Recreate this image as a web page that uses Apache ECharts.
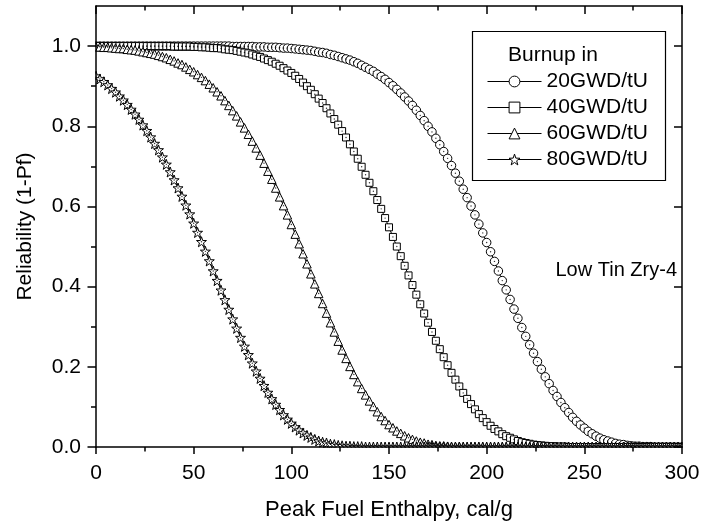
<!DOCTYPE html>
<html>
<head>
<meta charset="utf-8">
<script src="https://cdn.jsdelivr.net/npm/echarts@6/dist/echarts.min.js"></script>
<style>
  html, body { margin: 0; padding: 0; background: #fff; }
  #chart { width: 703px; height: 531px; }
</style>
</head>
<body>
<div id="chart"></div>
<script>
// Peak fuel enthalpy (cal/g), shared by all burnup levels
const enthalpy = [
  0, 2, 4, 6, 8, 10, 12, 14, 16, 18,
  20, 22, 24, 26, 28, 30, 32, 34, 36, 38,
  40, 42, 44, 46, 48, 50, 52, 54, 56, 58,
  60, 62, 64, 66, 68, 70, 72, 74, 76, 78,
  80, 82, 84, 86, 88, 90, 92, 94, 96, 98,
  100, 102, 104, 106, 108, 110, 112, 114, 116, 118,
  120, 122, 124, 126, 128, 130, 132, 134, 136, 138,
  140, 142, 144, 146, 148, 150, 152, 154, 156, 158,
  160, 162, 164, 166, 168, 170, 172, 174, 176, 178,
  180, 182, 184, 186, 188, 190, 192, 194, 196, 198,
  200, 202, 204, 206, 208, 210, 212, 214, 216, 218,
  220, 222, 224, 226, 228, 230, 232, 234, 236, 238,
  240, 242, 244, 246, 248, 250, 252, 254, 256, 258,
  260, 262, 264, 266, 268, 270, 272, 274, 276, 278,
  280, 282, 284, 286, 288, 290, 292, 294, 296, 298,
  300
];

// Reliability (1-Pf) for each burnup level
const rel20 = [
  1, 1, 1, 1, 1, 1, 1, 1, 1, 1,
  1, 1, 1, 1, 1, 1, 1, 1, 1, 1,
  1, 1, 1, 1, 1, 1, 1, 1, 1, 1,
  1, 1, 1, 1, 1, 0.999, 0.999, 0.999, 0.999, 0.999,
  0.999, 0.998, 0.998, 0.998, 0.997, 0.997, 0.997, 0.996, 0.995, 0.995,
  0.994, 0.993, 0.992, 0.991, 0.990, 0.989, 0.987, 0.985, 0.984, 0.982,
  0.979, 0.977, 0.974, 0.971, 0.968, 0.965, 0.961, 0.957, 0.952, 0.947,
  0.942, 0.937, 0.930, 0.924, 0.917, 0.909, 0.901, 0.892, 0.883, 0.873,
  0.863, 0.852, 0.840, 0.827, 0.814, 0.800, 0.786, 0.770, 0.754, 0.737,
  0.720, 0.702, 0.683, 0.663, 0.643, 0.622, 0.601, 0.579, 0.556, 0.534,
  0.510, 0.487, 0.463, 0.439, 0.415, 0.392, 0.368, 0.344, 0.321, 0.298,
  0.276, 0.255, 0.234, 0.213, 0.194, 0.175, 0.158, 0.141, 0.126, 0.111,
  0.098, 0.086, 0.074, 0.064, 0.055, 0.047, 0.039, 0.033, 0.027, 0.022,
  0.018, 0.015, 0.012, 0.009, 0.007, 0.006, 0.004, 0.003, 0.002, 0.002,
  0.001, 0.001, 0.001, 0, 0, 0, 0, 0, 0, 0,
  0
];

const rel40 = [
  1, 1, 1, 1, 1, 1, 1, 1, 1, 1,
  1, 1, 1, 1, 1, 1, 1, 1, 1, 1,
  0.999, 0.999, 0.999, 0.999, 0.999, 0.998, 0.998, 0.997, 0.997, 0.996,
  0.995, 0.995, 0.994, 0.992, 0.991, 0.990, 0.988, 0.986, 0.984, 0.982,
  0.979, 0.976, 0.973, 0.969, 0.965, 0.961, 0.956, 0.951, 0.945, 0.939,
  0.933, 0.926, 0.918, 0.909, 0.900, 0.891, 0.880, 0.869, 0.858, 0.845,
  0.832, 0.818, 0.804, 0.788, 0.772, 0.755, 0.737, 0.719, 0.699, 0.679,
  0.659, 0.638, 0.616, 0.594, 0.571, 0.548, 0.524, 0.500, 0.476, 0.452,
  0.428, 0.404, 0.380, 0.356, 0.333, 0.310, 0.287, 0.265, 0.244, 0.224,
  0.204, 0.185, 0.168, 0.151, 0.135, 0.120, 0.107, 0.094, 0.082, 0.072,
  0.062, 0.053, 0.045, 0.039, 0.032, 0.027, 0.023, 0.019, 0.015, 0.012,
  0.010, 0.008, 0.006, 0.005, 0.004, 0.003, 0.002, 0.002, 0.001, 0.001,
  0.001, 0, 0, 0, 0, 0, 0, 0, 0, 0,
  0, 0, 0, 0, 0, 0, 0, 0, 0, 0,
  0, 0, 0, 0, 0, 0, 0, 0, 0, 0,
  0
];

const rel60 = [
  0.998, 0.998, 0.997, 0.997, 0.996, 0.995, 0.994, 0.994, 0.992, 0.991,
  0.990, 0.988, 0.986, 0.984, 0.982, 0.980, 0.977, 0.974, 0.971, 0.967,
  0.963, 0.958, 0.954, 0.948, 0.942, 0.936, 0.929, 0.922, 0.914, 0.905,
  0.896, 0.886, 0.876, 0.864, 0.852, 0.839, 0.826, 0.811, 0.796, 0.780,
  0.763, 0.746, 0.728, 0.708, 0.688, 0.668, 0.646, 0.624, 0.602, 0.579,
  0.555, 0.531, 0.507, 0.482, 0.457, 0.432, 0.407, 0.383, 0.358, 0.334,
  0.310, 0.287, 0.264, 0.242, 0.221, 0.201, 0.181, 0.163, 0.146, 0.130,
  0.115, 0.101, 0.088, 0.076, 0.066, 0.056, 0.048, 0.040, 0.034, 0.028,
  0.023, 0.019, 0.015, 0.012, 0.010, 0.007, 0.006, 0.004, 0.003, 0.003,
  0.002, 0.001, 0.001, 0.001, 0, 0, 0, 0, 0, 0,
  0, 0, 0, 0, 0, 0, 0, 0, 0, 0,
  0, 0, 0, 0, 0, 0, 0, 0, 0, 0,
  0, 0, 0, 0, 0, 0, 0, 0, 0, 0,
  0, 0, 0, 0, 0, 0, 0, 0, 0, 0,
  0, 0, 0, 0, 0, 0, 0, 0, 0, 0,
  0
];

const rel80 = [
  0.925, 0.918, 0.911, 0.903, 0.894, 0.885, 0.875, 0.865, 0.854, 0.842,
  0.830, 0.817, 0.803, 0.789, 0.773, 0.757, 0.741, 0.723, 0.705, 0.686,
  0.666, 0.646, 0.625, 0.603, 0.581, 0.558, 0.535, 0.512, 0.488, 0.464,
  0.439, 0.415, 0.391, 0.367, 0.343, 0.319, 0.296, 0.273, 0.251, 0.230,
  0.209, 0.189, 0.171, 0.153, 0.136, 0.120, 0.106, 0.093, 0.080, 0.069,
  0.059, 0.050, 0.042, 0.035, 0.029, 0.024, 0.019, 0.015, 0.012, 0.010,
  0.007, 0.006, 0.004, 0.003, 0.002, 0.002, 0.001, 0.001, 0.001, 0,
  0, 0, 0, 0, 0, 0, 0, 0, 0, 0,
  0, 0, 0, 0, 0, 0, 0, 0, 0, 0,
  0, 0, 0, 0, 0, 0, 0, 0, 0, 0,
  0, 0, 0, 0, 0, 0, 0, 0, 0, 0,
  0, 0, 0, 0, 0, 0, 0, 0, 0, 0,
  0, 0, 0, 0, 0, 0, 0, 0, 0, 0,
  0, 0, 0, 0, 0, 0, 0, 0, 0, 0,
  0, 0, 0, 0, 0, 0, 0, 0, 0, 0,
  0
];

const seriesNames = ['20GWD/tU', '40GWD/tU', '60GWD/tU', '80GWD/tU'];
const xTickStep = 50;
const yMajorTicks = [0, 0.2, 0.4, 0.6, 0.8, 1.0];
const yMinorTicks = [0.1, 0.3, 0.5, 0.7, 0.9];
const legendTitle = 'Burnup in';
const alloyNote = 'Low Tin Zry-4';

const FONT = '"Liberation Sans", Arial, sans-serif';
const starPath = 'path://M50 0 L61.76 33.82 L97.55 34.55 L69.02 56.18 L79.39 90.45 L50 70 L20.61 90.45 L30.98 56.18 L2.45 34.55 L38.24 33.82 Z';
const markers = [
  { symbol: 'circle', size: 8.5 },
  { symbol: 'rect', size: 7 },
  { symbol: 'triangle', size: 8.5 },
  { symbol: starPath, size: 10 }
];
const curves = [rel20, rel40, rel60, rel80];

const pairs = curves.map(vals => enthalpy.map((x, i) => [x, vals[i]]));

const axisLineStyle = { color: '#000', width: 1.5 };

const chart = echarts.init(document.getElementById('chart'), null, { renderer: 'canvas' });

const series = pairs.map((data, k) => ({
  name: seriesNames[k],
  type: 'line',
  data: data,
  symbol: markers[k].symbol,
  symbolSize: markers[k].size,
  showAllSymbol: true,
  lineStyle: { color: '#000', width: 1 },
  itemStyle: { color: '#fff', borderColor: '#000', borderWidth: 1 },
  emphasis: { disabled: true },
  z: 2
}));

// small centre dots inside the hollow markers
series.push({
  name: 'dots',
  type: 'scatter',
  data: [].concat(...pairs),
  symbol: 'circle',
  symbolSize: 1.4,
  itemStyle: { color: '#000' },
  silent: true,
  z: 3
});

chart.setOption({
  animation: false,
  backgroundColor: '#fff',
  grid: { left: 96, right: 21, top: 6, bottom: 84 },
  xAxis: [
    {
      type: 'value', position: 'bottom', min: 0, max: 300, interval: xTickStep, z: 6,
      axisLine: { show: true, onZero: false, lineStyle: axisLineStyle },
      axisTick: { show: true, length: 7, lineStyle: axisLineStyle },
      minorTick: { show: true, splitNumber: 2, length: 4.5, lineStyle: axisLineStyle },
      splitLine: { show: false },
      axisLabel: { color: '#000', fontSize: 21, fontFamily: FONT, margin: 16 },
      name: 'Peak Fuel Enthalpy, cal/g', nameLocation: 'middle', nameGap: 52,
      nameTextStyle: { color: '#000', fontSize: 22, fontFamily: FONT }
    },
    {
      type: 'value', position: 'top', min: 0, max: 300, interval: xTickStep, z: 6,
      axisLine: { show: true, onZero: false, lineStyle: axisLineStyle },
      axisTick: { show: true, inside: true, length: 8, lineStyle: axisLineStyle },
      minorTick: { show: true, splitNumber: 2, length: 4.5, lineStyle: axisLineStyle },
      splitLine: { show: false },
      axisLabel: { show: false }
    }
  ],
  yAxis: [
    {
      type: 'value', position: 'left', min: 0, max: 1.1, interval: 0.2, z: 6,
      axisLine: { show: true, onZero: false, lineStyle: axisLineStyle },
      axisTick: { show: true, length: 8.5, customValues: yMajorTicks, lineStyle: axisLineStyle },
      splitLine: { show: false },
      axisLabel: {
        color: '#000', fontSize: 21, fontFamily: FONT, margin: 15,
        customValues: yMajorTicks, formatter: v => v.toFixed(1)
      },
      name: 'Reliability (1-Pf)', nameLocation: 'middle', nameGap: 60,
      nameTextStyle: { color: '#000', fontSize: 21, fontFamily: FONT }
    },
    {
      type: 'value', position: 'left', min: 0, max: 1.1, interval: 0.2, z: 6,
      axisLine: { show: false },
      axisTick: { show: true, length: 5, customValues: yMinorTicks, lineStyle: axisLineStyle },
      splitLine: { show: false },
      axisLabel: { show: false }
    },
    {
      type: 'value', position: 'right', min: 0, max: 1.1, interval: 0.2, z: 6,
      axisLine: { show: true, onZero: false, lineStyle: axisLineStyle },
      axisTick: { show: true, inside: true, length: 8, customValues: yMajorTicks, lineStyle: axisLineStyle },
      splitLine: { show: false },
      axisLabel: { show: false }
    },
    {
      type: 'value', position: 'right', min: 0, max: 1.1, interval: 0.2, z: 6,
      axisLine: { show: false },
      axisTick: { show: true, inside: true, length: 5, customValues: yMinorTicks, lineStyle: axisLineStyle },
      splitLine: { show: false },
      axisLabel: { show: false }
    }
  ],
  legend: {
    data: seriesNames,
    orient: 'vertical',
    left: 487,
    top: 71,
    padding: 0,
    itemWidth: 54,
    itemHeight: 13.5,
    itemGap: 5,
    selectedMode: false,
    itemStyle: { color: '#fff', borderColor: '#000', borderWidth: 1 },
    lineStyle: { color: '#000', width: 1 },
    textStyle: { color: '#000', fontSize: 21, fontFamily: FONT, lineHeight: 21 },
    z: 4
  },
  graphic: [
    {
      type: 'rect', z: 3, silent: true,
      shape: { x: 472.5, y: 31.5, width: 193, height: 149 },
      style: { fill: '#fff', stroke: '#000', lineWidth: 1.2 }
    },
    {
      type: 'text', z: 4, silent: true,
      style: { x: 508, y: 55, text: legendTitle, font: '21px ' + FONT, fill: '#000', verticalAlign: 'middle', textVerticalAlign: 'middle' }
    },
    {
      type: 'text', z: 4, silent: true,
      style: { x: 677, y: 270, text: alloyNote, font: '20px ' + FONT, fill: '#000', align: 'right', textAlign: 'right', verticalAlign: 'middle', textVerticalAlign: 'middle' }
    },
    // white bands just outside the frame, so edge markers stop at the axes
    { type: 'rect', z: 5, silent: true, shape: { x: 84, y: 0, width: 11.3, height: 460 }, style: { fill: '#fff' } },
    { type: 'rect', z: 5, silent: true, shape: { x: 84, y: 447.8, width: 610, height: 10 }, style: { fill: '#fff' } },
    { type: 'rect', z: 5, silent: true, shape: { x: 682.7, y: 0, width: 12, height: 460 }, style: { fill: '#fff' } },
    { type: 'rect', z: 5, silent: true, shape: { x: 84, y: 0, width: 610, height: 5.2 }, style: { fill: '#fff' } }
  ],
  series: series
});
</script>
</body>
</html>
